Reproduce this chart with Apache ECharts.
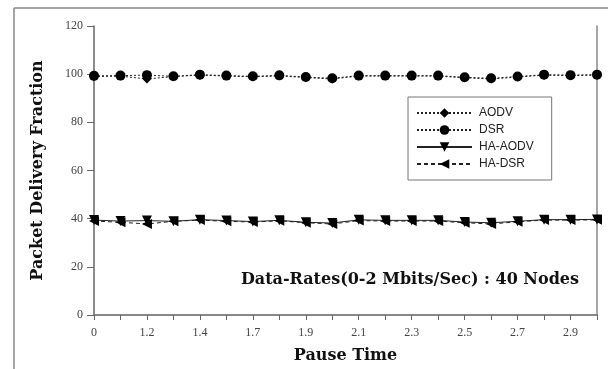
<!DOCTYPE html>
<html>
<head>
<meta charset="utf-8">
<script src="https://cdn.jsdelivr.net/npm/echarts@6/dist/echarts.min.js"></script>
<style>html,body{margin:0;padding:0;background:#fff}#c{width:608px;height:369px}</style>
</head>
<body>
<div id="c"></div>
<script>
var categories = ['0','0.6','1.2','1.3','1.4','1.5','1.7','1.8','1.9','2.0','2.1','2.2','2.3','2.4','2.5','2.6','2.7','2.8','2.9','3.0'];
var aodv   = [99.0, 99.2, 98.0, 99.0, 99.6, 99.2, 98.9, 99.3, 98.6, 98.0, 99.2, 99.2, 99.2, 99.2, 98.5, 98.0, 98.8, 99.6, 99.4, 99.6];
var dsr    = [99.3, 99.4, 99.6, 99.1, 99.8, 99.4, 99.1, 99.5, 98.8, 98.3, 99.4, 99.4, 99.4, 99.4, 98.7, 98.3, 99.0, 99.8, 99.6, 99.8];
var haAodv = [39.4, 39.0, 39.2, 38.9, 39.6, 39.2, 38.8, 39.3, 38.5, 38.2, 39.5, 39.3, 39.3, 39.3, 38.6, 38.3, 38.9, 39.6, 39.6, 39.7];
var haDsr  = [39.0, 38.5, 37.8, 38.9, 39.4, 38.9, 38.6, 39.1, 38.3, 37.8, 39.2, 39.0, 39.0, 39.0, 38.3, 37.8, 38.7, 39.4, 39.4, 39.5];
var yTicks = [0, 20, 40, 60, 80, 100, 120];

var chart = echarts.init(document.getElementById('c'), null, {renderer: 'canvas'});
var serifBold = {fontFamily: 'DejaVu Serif', fontWeight: 'bold', color: '#111'};
function mk(name, data, symbol, rot, lineType, size) {
  return {
    name: name, type: 'line', data: data, symbol: symbol, symbolSize: size, symbolRotate: rot,
    xAxisIndex: 0, yAxisIndex: 0,
    itemStyle: {color: '#000'},
    lineStyle: {color: '#222', width: 1, type: lineType},
    animation: false
  };
}
chart.setOption({
  animation: false,
  grid: {left: 94, right: 11, top: 26, bottom: 54},
  legend: {
    orient: 'vertical', left: 408, top: 97, width: 142,
    backgroundColor: '#fff', borderColor: '#777', borderWidth: 1,
    padding: [10, 18, 10, 8], itemGap: 5, itemWidth: 55, itemHeight: 12,
    textStyle: {fontFamily: 'Liberation Sans', fontSize: 12, color: '#222', padding: [0, 0, 0, 2]},
    data: ['AODV', 'DSR', 'HA-AODV', 'HA-DSR']
  },
  xAxis: [{
    type: 'category', data: categories, boundaryGap: false,
    name: 'Pause Time', nameLocation: 'middle', nameGap: 33,
    nameTextStyle: Object.assign({fontSize: 16}, serifBold),
    axisLine: {lineStyle: {color: '#666', width: 1.5}},
    axisTick: {interval: 0, length: 5, lineStyle: {color: '#666'}},
    axisLabel: {interval: 1, fontFamily: 'Liberation Serif', fontSize: 12, color: '#444', margin: 12}
  }, {
    type: 'category', data: categories, boundaryGap: false, position: 'top',
    axisLine: {lineStyle: {color: '#888', width: 1.5}}, axisTick: {show: false}, axisLabel: {show: false}
  }],
  yAxis: [{
    type: 'value', min: 0, max: 120, interval: 20,
    name: 'Packet Delivery Fraction', nameLocation: 'middle', nameGap: 48,
    nameTextStyle: Object.assign({fontSize: 16}, serifBold),
    axisLine: {show: true, lineStyle: {color: '#666', width: 1.5}},
    axisTick: {show: true, length: 7, lineStyle: {color: '#666'}},
    splitLine: {show: false},
    axisLabel: {fontFamily: 'Liberation Serif', fontSize: 12, color: '#444', margin: 11,
      formatter: function (v) { return yTicks.indexOf(v) >= 0 ? String(v) : ''; }}
  }, {
    type: 'value', min: 0, max: 120, interval: 20, position: 'right',
    axisLine: {show: true, lineStyle: {color: '#888', width: 1.5}},
    axisTick: {show: false}, axisLabel: {show: false}, splitLine: {show: false}
  }],
  graphic: [
    {type: 'line', shape: {x1: 14, y1: 8, x2: 608, y2: 8}, style: {stroke: '#888', lineWidth: 1.5}},
    {type: 'line', shape: {x1: 14, y1: 8, x2: 14, y2: 369}, style: {stroke: '#888', lineWidth: 1.5}},
    {type: 'text', right: 29, top: 272, z: 10,
     style: {text: 'Data-Rates(0-2 Mbits/Sec) : 40 Nodes', font: 'bold 16px "DejaVu Serif"', fill: '#111'}}
  ],
  series: [
    mk('AODV', aodv, 'diamond', 0, [2, 2], 9),
    mk('DSR', dsr, 'circle', 0, [2, 2], 10),
    mk('HA-AODV', haAodv, 'triangle', 180, 'solid', 10),
    mk('HA-DSR', haDsr, 'triangle', 90, [4, 3], 10)
  ]
});
</script>
</body>
</html>
